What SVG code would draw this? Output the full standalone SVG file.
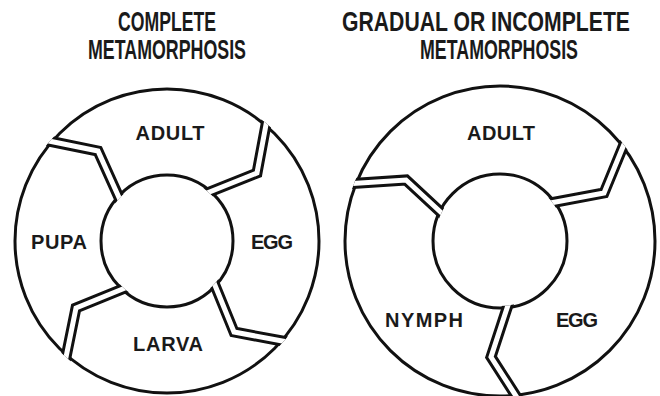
<svg xmlns="http://www.w3.org/2000/svg" width="660" height="396" viewBox="0 0 660 396">
<style>
.title{font-family:"Liberation Sans",Arial,sans-serif;font-weight:bold;font-size:21px;fill:#1a1a1a;text-anchor:middle}
.lbl{font-family:"Liberation Sans",Arial,sans-serif;font-weight:bold;font-size:20px;fill:#1a1a1a;text-anchor:middle}
.ring{fill:none;stroke:#111;stroke-width:3}
.sepB{fill:none;stroke:#111;stroke-width:11;stroke-linejoin:miter}
.sepW{fill:none;stroke:#fff;stroke-width:5;stroke-linejoin:miter}
</style>
<defs>
<clipPath id="annL"><path clip-rule="evenodd" d="M13,241a154,154 0 1,0 308,0a154,154 0 1,0 -308,0Z M103,241a64,64 0 1,0 128,0a64,64 0 1,0 -128,0Z"/></clipPath>
<clipPath id="annR"><path clip-rule="evenodd" d="M343,241a157,157 0 1,0 314,0a157,157 0 1,0 -314,0Z M435,241a65,65 0 1,0 130,0a65,65 0 1,0 -130,0Z"/></clipPath>
</defs>
<rect width="660" height="396" fill="#fff"/>

<g id="titles" transform="scale(1,1.333)">
<text class="title" x="167" y="23.3" textLength="98" lengthAdjust="spacingAndGlyphs">COMPLETE</text>
<text class="title" x="167" y="44.3" textLength="158" lengthAdjust="spacingAndGlyphs">METAMORPHOSIS</text>
<text class="title" x="486" y="23.3" textLength="288" lengthAdjust="spacingAndGlyphs">GRADUAL OR INCOMPLETE</text>
<text class="title" x="499" y="44.3" textLength="158" lengthAdjust="spacingAndGlyphs">METAMORPHOSIS</text>
</g>

<g id="complete-cycle">
<circle class="ring" cx="167" cy="241" r="152"/>
<circle class="ring" cx="167" cy="241" r="66"/>
</g>
<g id="gradual-cycle">
<circle class="ring" cx="500" cy="241" r="155"/>
<circle class="ring" cx="500" cy="241" r="67"/>
</g>

<g id="connectors">
<g clip-path="url(#annL)">
<polyline class="sepB" points="39,139 98,151 121,202"/>
<polyline class="sepW" points="39,139 98,151 121,202"/>
<polyline class="sepB" points="268,114 257,173 202,195"/>
<polyline class="sepW" points="268,114 257,173 202,195"/>
<polyline class="sepB" points="212,278 234,332 293,343"/>
<polyline class="sepW" points="212,278 234,332 293,343"/>
<polyline class="sepB" points="130,286 76,308 64,367"/>
<polyline class="sepW" points="130,286 76,308 64,367"/>
</g>
<g clip-path="url(#annR)">
<polyline class="sepB" points="345,184 406,180 447,218"/>
<polyline class="sepW" points="345,184 406,180 447,218"/>
<polyline class="sepB" points="627,137 604,193 545,204"/>
<polyline class="sepW" points="627,137 604,193 545,204"/>
<polyline class="sepB" points="510,299 491,357 525,410"/>
<polyline class="sepW" points="510,299 491,357 525,410"/>
</g>
</g>

<g id="complete-adult"><text class="lbl" x="170" y="140" textLength="69">ADULT</text></g>
<g id="complete-egg"><text class="lbl" x="272" y="249" textLength="42">EGG</text></g>
<g id="complete-larva"><text class="lbl" x="168" y="351" textLength="70">LARVA</text></g>
<g id="complete-pupa"><text class="lbl" x="59" y="249" textLength="56">PUPA</text></g>

<g id="gradual-adult"><text class="lbl" x="501" y="140" textLength="68">ADULT</text></g>
<g id="gradual-egg"><text class="lbl" x="577" y="327" textLength="42">EGG</text></g>
<g id="gradual-nymph"><text class="lbl" x="424" y="327" textLength="78">NYMPH</text></g>
</svg>
